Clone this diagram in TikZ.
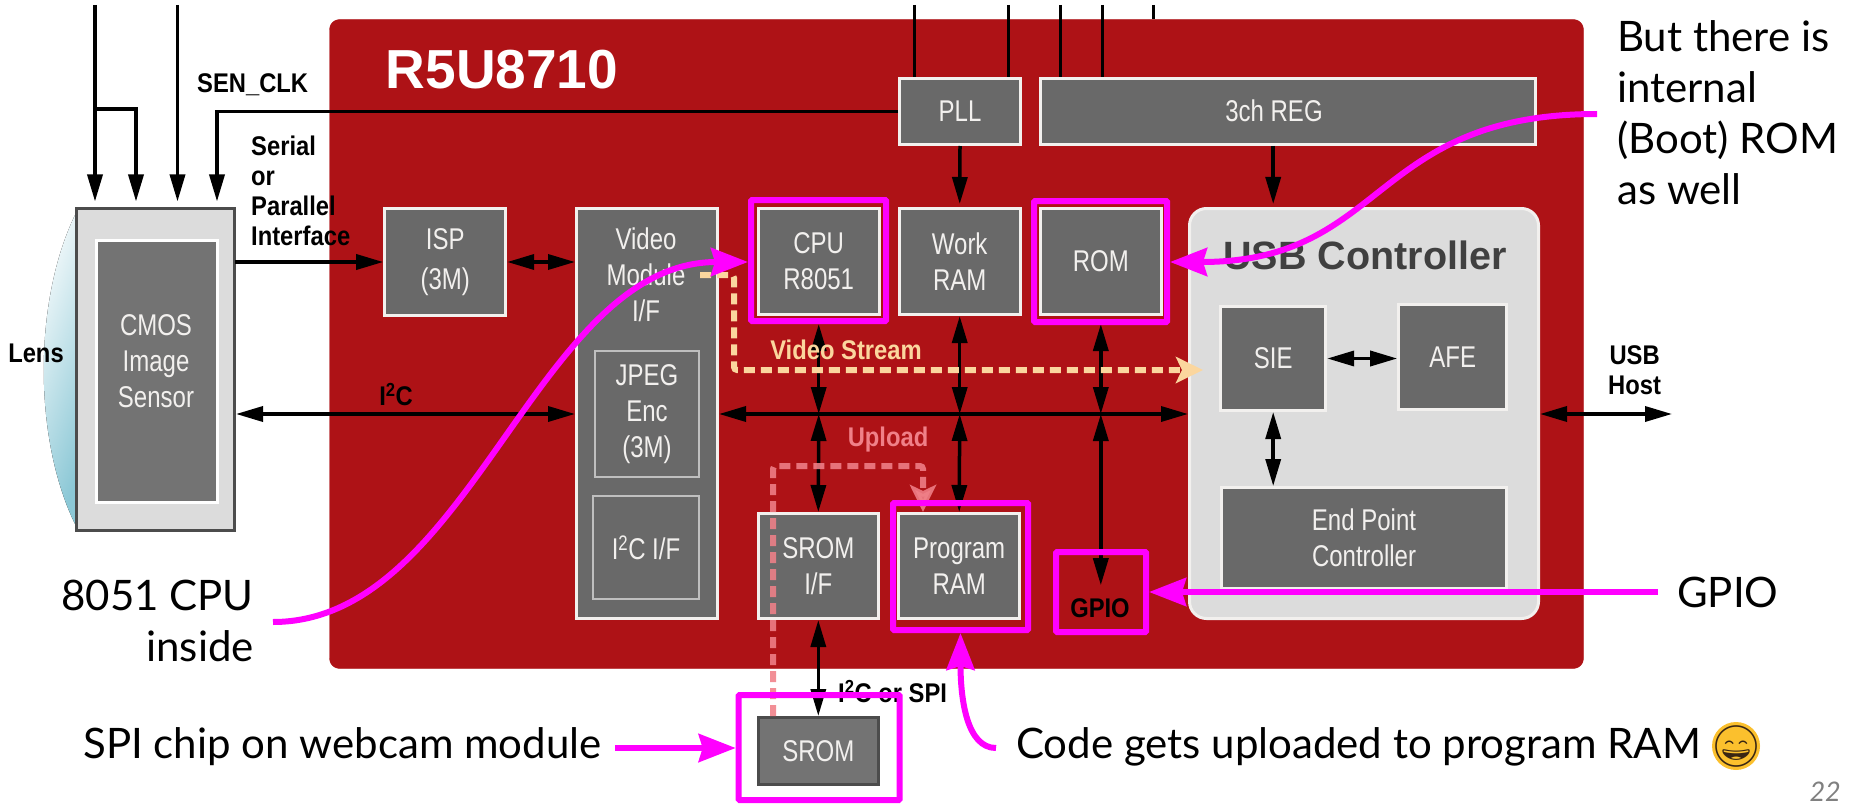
\documentclass[tikz,border=0pt]{standalone}
\usepackage{fontspec}
\setmainfont{Lato}
\newfontfamily\chipfont[FakeStretch=0.8]{Liberation Sans}
\newfontfamily\wirefont[FakeStretch=0.88]{Liberation Sans}
\newfontfamily\titlefont{Liberation Sans}
\newfontfamily\emojifont{Noto Emoji}
\usetikzlibrary{arrows.meta, positioning, calc}
\definecolor{chipred}{HTML}{AE1216}
\definecolor{blockgray}{HTML}{696969}
\definecolor{panelgray}{HTML}{DCDCDC}
\definecolor{edgewhite}{HTML}{F2F0EE}
\definecolor{lensblue}{HTML}{8CC8D6}
\definecolor{mag}{HTML}{FF00FF}
\definecolor{peach}{HTML}{FBD69E}
\definecolor{uplpink}{HTML}{F08088}
\definecolor{smile}{HTML}{FBC02D}

\begin{document}
\begin{tikzpicture}[x=1pt, y=-1pt,
      >={Triangle[length=27pt,width=15pt]},
      blk/.style={draw=edgewhite, line width=3pt, fill=blockgray, text=edgewhite, align=center, inner sep=0pt,
                  font=\chipfont\fontsize{30}{36}\selectfont},
      inblk/.style={blk, draw=gray!50!white, line width=2pt},
      wlbl/.style={font=\wirefont\bfseries\fontsize{27}{30}\selectfont, align=left, inner sep=0pt},
      note/.style={font=\fontsize{42}{51}\selectfont, inner sep=0pt},
      arr/.style={->, line width=3.5pt, black},
      darr/.style={<->, line width=3.5pt, black},
      magbox/.style={draw=mag, line width=6pt, rounded corners=1pt, inner sep=0pt},
      magarr/.style={-{Stealth[length=37pt,width=28pt,inset=4pt]}, line width=6pt, mag},
      vstream/.style={-{Stealth[length=27pt,width=26pt,inset=6pt]}, peach, line width=6pt, dash pattern=on 11pt off 6pt, rounded corners=3pt},
      upstream/.style={-{Stealth[length=27pt,width=26pt,inset=6pt]}, uplpink, opacity=.88, line width=6pt, dash pattern=on 11pt off 6pt, rounded corners=3pt},
    ]
    \useasboundingbox (0,0) rectangle (1851,805);
    \fill[left color=white, right color=lensblue, shading angle=70] (76,213) .. controls (33,300) and (33,440) .. (76,526) -- cycle;
    \node[draw=chipred, fill=chipred, rounded corners=10pt, minimum width=1254, minimum height=649] (chip) at (956.5,344) {};
    \node[draw=edgewhite, line width=3pt, fill=panelgray, rounded corners=17pt, minimum width=349, minimum height=410] (usb) at (1364,413.5) {};
    \node[draw=black!70, line width=3pt, fill=panelgray, minimum width=158, minimum height=322] (sensor) at (155.5,369) {};
    \node[blk, fill=gray!90!black, draw=white, minimum width=121, minimum height=262] (cmos) at (157,371) {};
    \node[text=edgewhite, font=\chipfont\fontsize{30}{36}\selectfont, align=center] (cmoslbl) at (156,361) {CMOS\\Image\\Sensor};

    \node[blk, minimum width=121, minimum height=107] (isp) at (445.2,262) {ISP\\[4pt](3M)};
    \node[blk, minimum width=141, minimum height=410] (vid) at (647,413.5) {};
    \node[text=edgewhite, font=\chipfont\fontsize{30}{36}\selectfont, align=center] (vidlbl) at (646,275) {Video\\Module\\I/F};
    \node[inblk, minimum width=104, minimum height=126] (jpeg) at (647,414) {JPEG\\Enc\\(3M)};
    \node[inblk, minimum width=106, minimum height=103] (i2cif) at (646,547.5) {I\textsuperscript{2}C I/F};
    \node[blk, minimum width=121, minimum height=66] (pll) at (960,111.5) {PLL};
    \node[blk, minimum width=495, minimum height=66] (reg) at (1287.5,111.5) {};
    \node[blk, minimum width=121, minimum height=106] (cpu) at (818.7,261.5) {CPU\\R8051};
    \node[blk, minimum width=121, minimum height=106] (wram) at (959.7,261.5) {Work\\RAM};
    \node[blk, minimum width=121, minimum height=106] (rom) at (1100.8,261.5) {ROM};
    \node[blk, minimum width=105, minimum height=104] (sie) at (1273.2,358.5) {SIE};
    \node[blk, minimum width=108, minimum height=105] (afe) at (1452.7,357) {AFE};
    \node[blk, minimum width=285, minimum height=101] (epc) at (1364,538) {End Point\\Controller};
    \node[blk, minimum width=120, minimum height=105] (srif) at (818.3,566) {SROM\\I/F};
    \node[blk, minimum width=121, minimum height=105] (prog) at (959.2,566) {Program\\RAM};
    \node[blk, draw=black!70, fill=gray!90!black, minimum width=120, minimum height=67] (srom) at (818.3,751) {SROM};

    \node[text=edgewhite, font=\chipfont\fontsize{30}{36}\selectfont] (reglbl) at (1274,111) {3ch REG};
    \node[text=white, font=\titlefont\bfseries\fontsize{55}{60}\selectfont, inner sep=0pt] (chipname) at (502,70) {R5U8710};
    \node[text=black!75, font=\titlefont\bfseries\fontsize{39.5}{45}\selectfont, inner sep=0pt] (usbname) at (1365,255) {USB Controller};
    \node[font=\wirefont\bfseries\fontsize{27}{30}\selectfont, inner sep=0pt] (gpio) at (1100,608) {GPIO};

    \coordinate (bus) at (960,414);
    \coordinate (host) at (1672,414);
    \coordinate (ta) at (95,5);
    \coordinate (tb) at (136,109);
    \coordinate (tc) at (177.5,5);
    \coordinate (td) at (217,5);
    \coordinate (pa) at (914,5);
    \coordinate (pb) at (1008,5);
    \coordinate (ra) at (1060.6,5);
    \coordinate (rb) at (1102.5,5);
    \coordinate (rc) at (1153.5,5);
    \coordinate (rd) at (1153.5,19);

    \draw[arr, shorten >=5pt] (ta) -- (ta |- sensor.north);
    \draw[arr, shorten >=5pt] (ta |- tb) -| (tb |- sensor.north);
    \draw[arr, shorten >=5pt] (tc) -- (tc |- sensor.north);
    \draw[arr, shorten >=5pt] (pll.west) -| (td |- sensor.north);
    \draw[arr, shorten <=-1pt] (sensor.east |- isp) -- (isp.west);
    \draw[darr] (isp.east) -- (vid.west |- isp);
    \draw[darr] (sensor.east |- bus) -- (vid.west |- bus);
    \draw[darr] (vid.east |- bus) -- (usb.west |- bus);
    \draw[darr] (usb.east |- bus) -- (host);
    \draw[line width=3pt] (pa) -- (pa |- pll.north);
    \draw[line width=3pt] (pb) -- (pb |- pll.north);
    \draw[line width=3pt] (ra) -- (ra |- reg.north);
    \draw[line width=3pt] (rb) -- (rb |- reg.north);
    \draw[line width=3pt] (rc) -- (rd);
    \draw[arr, shorten >=3pt] (pll.south) -- (wram.north);
    \draw[arr, shorten >=3pt] (reg.south -| sie) -- (usb.north -| sie);
    \draw[darr] (cpu.south) ++(0,8) -- (cpu.south |- bus);
    \draw[darr] (wram.south) -- (wram.south |- bus);
    \draw[darr] (rom.south) ++(0,8) -- (rom.south |- bus);
    \draw[darr] (cpu.south |- bus) -- (srif.north);
    \draw[darr] (wram.south |- bus) -- (prog.north);
    \draw[darr, shorten >=13pt] (rom.south |- bus) -- (rom.south |- gpio.north);
    \draw[darr] (srif.south) -- (srom.north);
    \draw[darr] (sie.east) -- (afe.west |- sie);
    \draw[darr] (sie.south) -- (sie.south |- epc.north);

    \node[wlbl, anchor=west] (senclk) at (197,85) {SEN\_CLK};
    \node[wlbl, anchor=north west] (iflbl) at (251,136) {Serial\\or\\Parallel\\Interface};
    \node[wlbl] (lens) at (36,353) {Lens};
    \node[wlbl] (i2clbl) at (396,395) {I\textsuperscript{2}C};
    \node[wlbl, anchor=west] (spilbl) at (838,692) {I\textsuperscript{2}C or SPI};
    \node[wlbl, align=center] (hostlbl) at (1634.6,370) {USB\\Host};

    \coordinate (vs) at (700,275);
    \coordinate (vc) at (734,370);
    \coordinate (ve) at (1203,370);
    \draw[vstream] (vs) -| (vc) -- (ve);
    \node[wlbl, text=peach] (vslbl) at (846,350) {Video Stream};
    \coordinate (ua) at (773,466);
    \coordinate (ub) at (923,466);
    \draw[upstream] (ua |- srom.north) -- (ua) -- (ub) -- (ub |- prog.north);
    \node[wlbl, text=uplpink] (uplbl) at (888,440) {Upload};

    \node[magbox, minimum width=135, minimum height=121] (cpum) at (818.5,260.5) {};
    \node[magbox, minimum width=133, minimum height=121] (romm) at (1100.5,261.5) {};
    \node[magbox, minimum width=135, minimum height=127] (progm) at (960.5,566.5) {};
    \node[magbox, minimum width=90, minimum height=80] (gpiom) at (1101,592) {};
    \node[magbox, minimum width=161, minimum height=105] (sromm) at (819.2,747.5) {};

    \node[note, align=left, anchor=north west] (romnote) at (1617,20) {But there is\\internal\\(Boot) ROM\\as well};
    \node[note, align=right, anchor=east] (cpunote) at (254,621) {8051 CPU\\inside};
    \node[note, anchor=west] (spinote) at (83,747) {SPI chip on webcam module};
    \node[note, anchor=west] (codenote) at (1016,747) {Code gets uploaded to program RAM};
    \node[note, anchor=west] (gpionote) at (1677,592) {GPIO};
    \node[circle, fill=smile, minimum size=48pt, inner sep=0pt] (smiley) at (1736,746) {};
    \node[text=black!70!brown, font=\emojifont\fontsize{41}{41}\selectfont, inner sep=0pt] (smileyface) at (smiley) {😄};
    \node[text=gray, anchor=base east, font=\itshape\fontsize{27}{27}\selectfont, inner sep=0pt] (pagenum) at (1841,801) {22};

    \coordinate (cpustart) at (273,622);
    \coordinate (romstart) at (1597,114);
    \coordinate (gpiostart) at (1658,592);
    \coordinate (progstart) at (996,748);
    \coordinate (spistart) at (615,748);
    \draw[magarr] (cpustart) .. controls (471,622) and (536,262) .. (cpum.west |- 0,262);
    \draw[magarr] (romstart) .. controls (1370,114) and (1387,262) .. (romm.east |- 0,262);
    \draw[magarr] (gpiostart) -- (gpiom.east |- gpiostart);
    \draw[magarr] (progstart) .. controls (967,748) and (960.5,700) .. (progm.south);
    \draw[magarr] (spistart) -- (sromm.west |- spistart);
\end{tikzpicture}
\end{document}
